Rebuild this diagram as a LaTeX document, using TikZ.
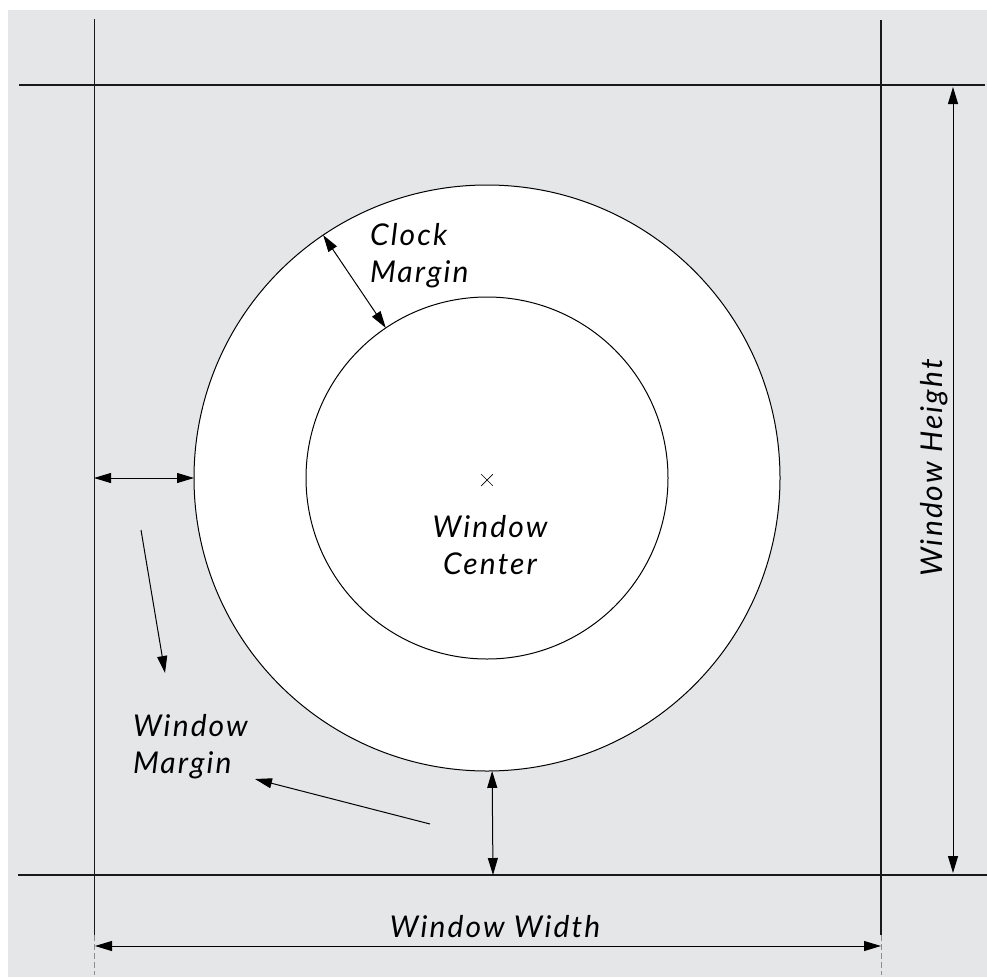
\documentclass[tikz,border=0pt]{standalone}
\usepackage{fontspec}
\setmainfont{Lato}[LetterSpace=7]
\usetikzlibrary{arrows.meta,shapes.misc}
\definecolor{sheet}{RGB}{229,230,232}
\begin{document}
\begin{tikzpicture}[x=1pt,y=-1pt,
  rule/.style={draw=black!90, line width=1.3pt},
  faint/.style={draw=black!45, line width=0.8pt, dash pattern=on 6pt off 3pt},
  tip/.tip={Triangle[length=17pt,width=10pt]},
  dimline/.style={draw=black, line width=1pt, tip-tip},
  pointer/.style={draw=black, line width=1pt, -tip},
  lbl/.style={font=\itshape\fontsize{30}{37}\selectfont, inner sep=0pt, outer sep=0pt},
  ring/.style={circle, draw=black, line width=1pt, fill=white, inner sep=0pt, outer sep=0pt}]
\useasboundingbox (0,0) rectangle (987,977);
\fill[white] (0,0) rectangle (987,977);
\fill[sheet] (8,10) rectangle (987,977);

% window frame guide lines
\coordinate (left-top) at (94.5,19);
\coordinate (left-mid) at (94.5,935);
\coordinate (left-end) at (94.5,975);
\coordinate (right-top) at (881,20);
\coordinate (right-mid) at (881,935);
\coordinate (right-end) at (881,975);
\coordinate (top-left) at (19,85);
\coordinate (top-right) at (985,85);
\coordinate (bot-left) at (18,875);
\coordinate (bot-right) at (987,875);
\draw[rule] (left-top) -- (left-mid);
\draw[faint] (left-mid) -- (left-end);
\draw[rule] (right-top) -- (right-mid);
\draw[faint] (right-mid) -- (right-end);
\draw[rule] (top-left) -- (top-right);
\draw[rule] (bot-left) -- (bot-right);

% clock rings
\node[ring, minimum size=586pt] (outer) at (487,478) {};
\node[ring, minimum size=362pt] (inner) at (487,478) {};
\node[cross out, draw=black, line width=0.7pt, minimum size=11pt, inner sep=0pt] (centre) at (487,480) {};

% labels
\node[lbl, align=center] (centre-label) at (490,545) {Window\\Center};
\node[lbl, align=left, anchor=west] (clock-label) at (370,256) {Clock\\Margin};
\node[lbl, align=left, anchor=west] (margin-label) at (133,747) {Window\\Margin};
\node[lbl, anchor=base] (width-label) at (495,937) {Window Width};
\node[lbl, anchor=base, rotate=90] (height-label) at (942,468) {Window Height};

% dimensions
\coordinate (h-top) at (953,87);
\coordinate (h-bot) at (953,873);
\coordinate (w-left) at (95,946);
\coordinate (w-right) at (881,946);
\draw[dimline] (h-top) -- (h-bot);
\draw[dimline] (w-left) -- (w-right);

\coordinate (wm-left) at (94,478);
\draw[dimline] (wm-left) -- (outer.west);
\coordinate (wm-bottom) at (493,875);
\draw[dimline] (outer.271.2) -- (wm-bottom);
\draw[dimline] (outer.124.8) -- (inner.124.8);

% pointers towards the margin label
\coordinate (p1-start) at (141,530);
\coordinate (p1-end) at (165,673);
\coordinate (p2-start) at (430,824);
\coordinate (p2-end) at (255,779);
\draw[pointer] (p1-start) -- (p1-end);
\draw[pointer] (p2-start) -- (p2-end);
\end{tikzpicture}
\end{document}
